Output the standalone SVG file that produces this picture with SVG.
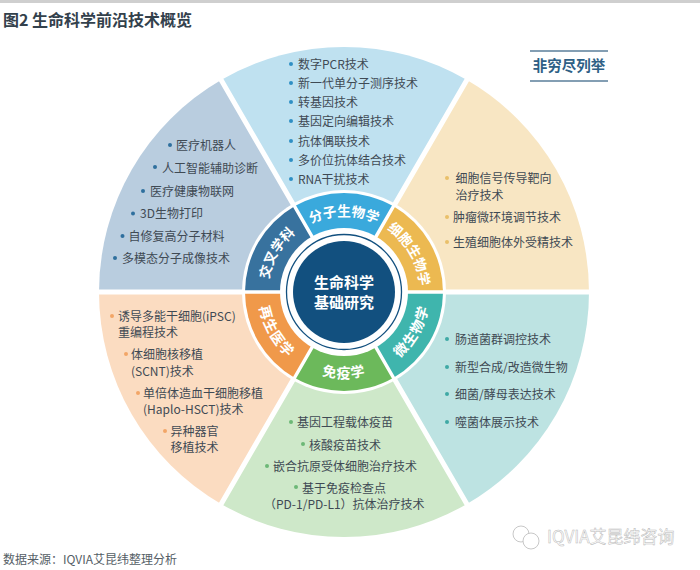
<svg xmlns="http://www.w3.org/2000/svg" width="700" height="570" viewBox="0 0 700 570">
<style>
text{font-family:"Noto Sans CJK SC","Noto Sans",sans-serif}
.t{font-size:12px;fill:#3f4a54}
.b{font-size:13.6px;font-weight:700;fill:#fff;text-anchor:middle}
.lo{font-size:14px;letter-spacing:1px}
.c{font-size:15px;font-weight:700;fill:#fff;text-anchor:middle}
.gap{stroke:#fff;stroke-width:5;fill:none}
.bgap{stroke:#fff;stroke-width:3.5;fill:none}
.bl1{fill:#2f8fc4}.bl2{fill:#2f6f9e}.bl3{fill:#f2a667}.bl4{fill:#6cb876}.bl5{fill:#e9c06a}.bl6{fill:#3fa9a5}
</style>
<defs>
<path id="pa1" d="M268 292A76 76 0 0 1 306 226.2"/>
<path id="pa2" d="M306 226.2A76 76 0 0 1 382 226.2"/>
<path id="pa3" d="M382 226.2A76 76 0 0 1 420 292"/>
<path id="pa4" d="M387 366.5A86 86 0 0 0 430 292"/>
<path id="pa5" d="M301 366.5A86 86 0 0 0 387 366.5"/>
<path id="pa6" d="M258 292A86 86 0 0 0 301 366.5"/>
</defs>
<rect width="700" height="570" fill="#fff"/>
<rect width="700" height="3" fill="#cfcfcf"/>
<text id="title" x="3" y="26" font-size="16" font-weight="700" fill="#33414c">图2 生命科学前沿技术概览</text>
<g id="tag">
<path d="M530 51H608M530 81H608" stroke="#5b7f9b" stroke-width="1.5" fill="none"/>
<text x="569" y="71" font-size="14.5" font-weight="700" fill="#2e5f85" text-anchor="middle">非穷尽列举</text>
</g>
<g id="sector-top">
<path d="M344 292L221.5 79.8A245 245 0 0 1 466.5 79.8Z" fill="#bfe1f0"/>
</g>
<g id="sector-right">
<path d="M344 292L466.5 79.8A245 245 0 0 1 589 292Z" fill="#f8e6c3"/>
</g>
<g id="sector-lower-right">
<path d="M344 292L589 292A245 245 0 0 1 466.5 504.2Z" fill="#bde3e2"/>
</g>
<g id="sector-bottom">
<path d="M344 292L466.5 504.2A245 245 0 0 1 221.5 504.2Z" fill="#cee8c9"/>
</g>
<g id="sector-lower-left">
<path d="M344 292L221.5 504.2A245 245 0 0 1 99 292Z" fill="#fbdcc1"/>
</g>
<g id="sector-upper-left">
<path d="M344 292L99 292A245 245 0 0 1 221.5 79.8Z" fill="#b9cddf"/>
</g>
<g id="connectors">
<path class="gap" d="M95 292H593M219 76.3L469 507.7M469 76.3L219 507.7"/>
</g>
<circle cx="344" cy="292" r="102" fill="#fff"/>
<g id="band-top"><path d="M344 292L294.5 206.3A99 99 0 0 1 393.5 206.3Z" fill="#3aa9dc"/></g>
<g id="band-right"><path d="M344 292L393.5 206.3A99 99 0 0 1 443 292Z" fill="#ecb951"/></g>
<g id="band-lower-right"><path d="M344 292L443 292A99 99 0 0 1 393.5 377.7Z" fill="#3fb5ad"/></g>
<g id="band-bottom"><path d="M344 292L393.5 377.7A99 99 0 0 1 294.5 377.7Z" fill="#6cb95b"/></g>
<g id="band-lower-left"><path d="M344 292L294.5 377.7A99 99 0 0 1 245 292Z" fill="#f0994a"/></g>
<g id="band-upper-left"><path d="M344 292L245 292A99 99 0 0 1 294.5 206.3Z" fill="#38729e"/></g>
<path class="bgap" d="M240 292H448M291.5 201L396.5 383M396.5 201L291.5 383"/>
<g id="center">
<circle cx="344" cy="292" r="64" fill="#fff"/>
<circle cx="344" cy="292" r="57.5" fill="none" stroke="#12507f" stroke-width="1.3"/>
<circle cx="344" cy="292" r="51" fill="#12507f"/>
<text class="c" x="344" y="288">生命科学</text>
<text class="c" x="344" y="308">基础研究</text>
</g>
<g id="band-labels">
<text class="b"><textPath href="#pa1" startOffset="50%">交叉学科</textPath></text>
<text class="b"><textPath href="#pa2" startOffset="50%">分子生物学</textPath></text>
<text class="b"><textPath href="#pa3" startOffset="50%">细胞生物学</textPath></text>
<text class="b lo"><textPath href="#pa4" startOffset="50%">微生物学</textPath></text>
<text class="b lo"><textPath href="#pa5" startOffset="50%">免疫学</textPath></text>
<text class="b lo"><textPath href="#pa6" startOffset="50%">再生医学</textPath></text>
</g>
<g id="list-top">
<text class="t" x="298" y="68.5">数字PCR技术</text>
<text class="t" x="298" y="87.5">新一代单分子测序技术</text>
<text class="t" x="298" y="106.5">转基因技术</text>
<text class="t" x="298" y="125.5">基因定向编辑技术</text>
<text class="t" x="298" y="145.5">抗体偶联技术</text>
<text class="t" x="298" y="164.5">多价位抗体结合技术</text>
<text class="t" x="298" y="183.5">RNA干扰技术</text>
<circle class="bl1" cx="291" cy="64" r="2"/><circle class="bl1" cx="291" cy="83" r="2"/><circle class="bl1" cx="291" cy="102" r="2"/><circle class="bl1" cx="291" cy="121" r="2"/><circle class="bl1" cx="291" cy="141" r="2"/><circle class="bl1" cx="291" cy="160" r="2"/><circle class="bl1" cx="291" cy="179" r="2"/>
</g>
<g id="list-upper-left">
<text class="t" x="176" y="149.5">医疗机器人</text>
<text class="t" x="162" y="172.5">人工智能辅助诊断</text>
<text class="t" x="150" y="195.5">医疗健康物联网</text>
<text class="t" x="140" y="218">3D生物打印</text>
<text class="t" x="128.5" y="240.5">自修复高分子材料</text>
<text class="t" x="122" y="262.5">多模态分子成像技术</text>
<circle class="bl2" cx="170" cy="145" r="2"/><circle class="bl2" cx="155" cy="167" r="2"/><circle class="bl2" cx="143" cy="191" r="2"/><circle class="bl2" cx="133" cy="213.5" r="2"/><circle class="bl2" cx="122.5" cy="236" r="2"/><circle class="bl2" cx="115" cy="258" r="2"/>
</g>
<g id="list-lower-left">
<text class="t" x="118" y="320.5">诱导多能干细胞(iPSC)</text>
<text class="t" x="118" y="336.5">重编程技术</text>
<text class="t" x="131" y="358.5">体细胞核移植</text>
<text class="t" x="131" y="375.5">(SCNT)技术</text>
<text class="t" x="143" y="397.5">单倍体造血干细胞移植</text>
<text class="t" x="143" y="413.5">(Haplo-HSCT)技术</text>
<text class="t" x="170.5" y="435.5">异种器官</text>
<text class="t" x="170.5" y="451.5">移植技术</text>
<circle class="bl3" cx="112" cy="316" r="2"/><circle class="bl3" cx="126" cy="354" r="2"/><circle class="bl3" cx="138" cy="393" r="2"/><circle class="bl3" cx="165" cy="431" r="2"/>
</g>
<g id="list-bottom">
<text class="t" x="297" y="426.5">基因工程载体疫苗</text>
<text class="t" x="309" y="449.5">核酸疫苗技术</text>
<text class="t" x="273" y="470.5">嵌合抗原受体细胞治疗技术</text>
<text class="t" x="302" y="492.5">基于免疫检查点</text>
<text class="t" x="264" y="508.5">（PD-1/PD-L1）抗体治疗技术</text>
<circle class="bl4" cx="291" cy="422" r="2"/><circle class="bl4" cx="303" cy="444" r="2"/><circle class="bl4" cx="267" cy="466" r="2"/><circle class="bl4" cx="296" cy="487" r="2"/>
</g>
<g id="list-right">
<text class="t" x="455.5" y="182.5">细胞信号传导靶向</text>
<text class="t" x="455.5" y="199.5">治疗技术</text>
<text class="t" x="453" y="221.5">肿瘤微环境调节技术</text>
<text class="t" x="453" y="246.5">生殖细胞体外受精技术</text>
<circle class="bl5" cx="447" cy="178" r="2"/><circle class="bl5" cx="447" cy="217" r="2"/><circle class="bl5" cx="447" cy="242" r="2"/>
</g>
<g id="list-lower-right">
<text class="t" x="455" y="343.5">肠道菌群调控技术</text>
<text class="t" x="455" y="371.5">新型合成/改造微生物</text>
<text class="t" x="455" y="398.5">细菌/酵母表达技术</text>
<text class="t" x="455" y="426.5">噬菌体展示技术</text>
<circle class="bl6" cx="447" cy="339" r="2"/><circle class="bl6" cx="447" cy="367" r="2"/><circle class="bl6" cx="447" cy="394" r="2"/><circle class="bl6" cx="447" cy="422" r="2"/>
</g>
<text id="source" x="3" y="564" font-size="12" fill="#555e66">数据来源：IQVIA艾昆纬整理分析</text>
<g id="watermark" fill="#fff" stroke="#b9b9b9" stroke-width="0.8">
<circle cx="521" cy="534" r="8"/>
<circle cx="531" cy="541" r="8"/>
<text x="547" y="543" font-size="17" stroke-width="0.5">IQVIA艾昆纬咨询</text>
</g>
</svg>
